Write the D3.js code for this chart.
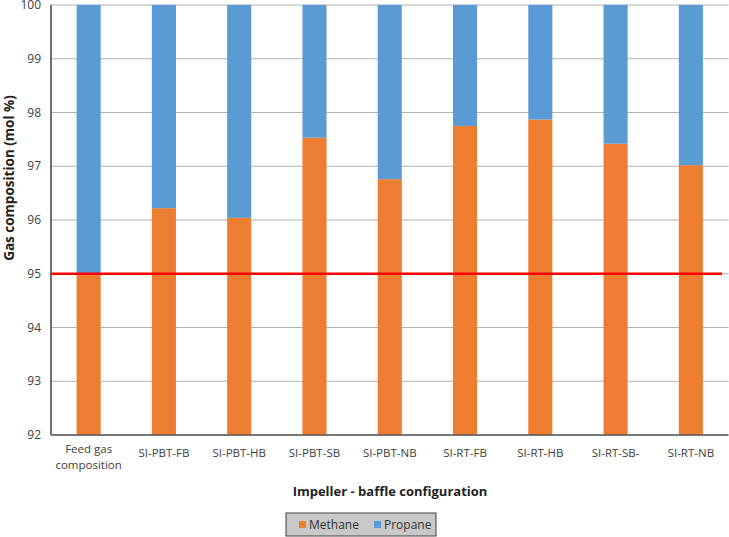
<!DOCTYPE html>
<html>
<head>
<meta charset="utf-8">
<script src="https://cdn.jsdelivr.net/npm/d3@7"></script>
<style>
  body { margin: 0; background: #fff; }
  text { font-family: "Open Sans", sans-serif; }
</style>
</head>
<body>
<svg id="chart" width="729" height="537"></svg>
<script>
// categories and values
var categories = ["Feed gas composition", "SI-PBT-FB", "SI-PBT-HB", "SI-PBT-SB", "SI-PBT-NB",
                  "SI-RT-FB", "SI-RT-HB", "SI-RT-SB-", "SI-RT-NB"];
var methane = [95.0, 96.22, 96.04, 97.53, 96.76, 97.75, 97.87, 97.42, 97.02];
var propane = methane.map(function(m) { return +(100 - m).toFixed(2); });
var yTicks = [92, 93, 94, 95, 96, 97, 98, 99, 100];
var refLine = 95;

var svg = d3.select("#chart");
var plotL = 51, plotR = 728.5, plotT = 5, plotB = 435;

var x = d3.scaleBand().domain(categories).range([plotL, plotR]).paddingInner(0.68).paddingOuter(0.34);
var y = d3.scaleLinear().domain([92, 100]).range([plotB, plotT]);

// gridlines
svg.append("g").selectAll("line").data(yTicks).join("line")
  .attr("x1", plotL).attr("x2", plotR)
  .attr("y1", function(d) { return y(d); }).attr("y2", function(d) { return y(d); })
  .attr("stroke", "#b0b0b0").attr("stroke-width", 1);

// stacked bars
var rows = categories.map(function(c, i) { return { cat: c, Methane: methane[i], Propane: propane[i] }; });
var stack = d3.stack().keys(["Methane", "Propane"])(rows);
var colors = { Methane: "#ED7D31", Propane: "#5B9BD5" };

svg.append("g").selectAll("g").data(stack).join("g")
  .attr("fill", function(s) { return colors[s.key]; })
  .selectAll("rect").data(function(s) { return s; }).join("rect")
  .attr("x", function(d) { return x(d.data.cat); })
  .attr("width", x.bandwidth())
  .attr("y", function(d) { return y(Math.min(d[1], 100)); })
  .attr("height", function(d) { return y(Math.max(d[0], 92)) - y(Math.min(d[1], 100)); });

// axes lines
svg.append("line").attr("x1", plotL).attr("x2", plotL).attr("y1", plotT).attr("y2", plotB)
  .attr("stroke", "#404040").attr("stroke-width", 1.5);
svg.append("line").attr("x1", plotL).attr("x2", plotR).attr("y1", plotB).attr("y2", plotB)
  .attr("stroke", "#595959").attr("stroke-width", 1.5);

// red reference line
svg.append("line").attr("x1", plotL).attr("x2", 722)
  .attr("y1", y(refLine)).attr("y2", y(refLine))
  .attr("stroke", "#FF0000").attr("stroke-width", 2.5);

// y tick labels
svg.append("g").selectAll("text").data(yTicks).join("text")
  .attr("x", plotL - 10).attr("y", function(d) { return y(d); })
  .attr("dy", "0.35em").attr("text-anchor", "end")
  .attr("font-size", 12).attr("fill", "#404040")
  .text(function(d) { return d; });

// x tick labels (wrap the long one)
var xl = svg.append("g").selectAll("text").data(categories).join("text")
  .attr("x", function(d) { return x(d) + x.bandwidth() / 2; })
  .attr("y", 457).attr("text-anchor", "middle")
  .attr("font-size", 11.5).attr("fill", "#404040");
xl.each(function(d) {
  var t = d3.select(this);
  if (d === "Feed gas composition") {
    t.append("tspan").attr("x", t.attr("x")).attr("dy", -4).text("Feed gas");
    t.append("tspan").attr("x", t.attr("x")).attr("dy", 16).text("composition");
  } else {
    t.text(d);
  }
});

// axis titles
svg.append("text").attr("transform", "translate(14,178) rotate(-90)")
  .attr("text-anchor", "middle").attr("font-size", 13.5).attr("font-weight", "bold")
  .attr("fill", "#222").text("Gas composition (mol %)");
svg.append("text").attr("x", 390).attr("y", 496).attr("text-anchor", "middle")
  .attr("font-size", 13).attr("font-weight", "bold").attr("fill", "#222")
  .text("Impeller - baffle configuration");

// legend
var leg = svg.append("g").attr("transform", "translate(286,513)");
leg.append("rect").attr("width", 150).attr("height", 23)
  .attr("fill", "#c8c8c8").attr("stroke", "#404040").attr("stroke-width", 1);
var keys = ["Methane", "Propane"];
var lx = [13, 88];
keys.forEach(function(k, i) {
  leg.append("rect").attr("x", lx[i]).attr("y", 8).attr("width", 7).attr("height", 7).attr("fill", colors[k]);
  leg.append("text").attr("x", lx[i] + 10).attr("y", 16).attr("font-size", 12)
    .attr("fill", "#333").text(k);
});
</script>
</body>
</html>
